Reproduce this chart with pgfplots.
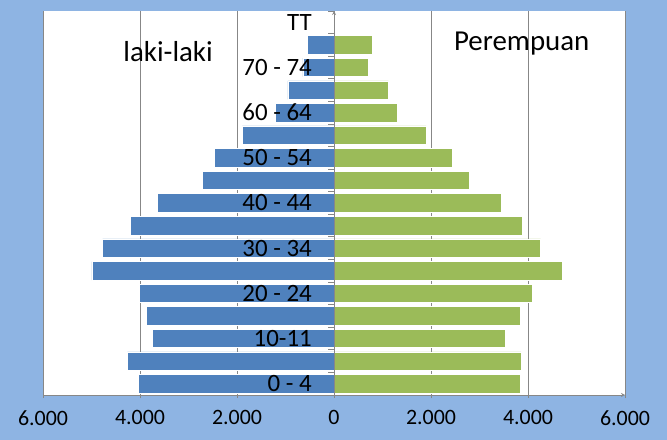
\documentclass[border=0pt]{standalone}
\usepackage{fontspec}
\setmainfont{Carlito}
\usepackage{pgfplots}
\usepackage{pgfplotstable}
\pgfplotsset{compat=1.18}

\definecolor{bgblue}{HTML}{8EB4E3}
\definecolor{male}{HTML}{4F81BD}
\definecolor{female}{HTML}{9BBB59}
\definecolor{gridgray}{HTML}{878787}

\pgfplotsset{
    pyr frame/.style={
        at={(43bp,45bp)}, anchor=south west,
        scale only axis, width=582bp, height=384bp,
        xmin=-6000, xmax=6000, ymin=-0.5, ymax=16.5,
        axis line style={-, draw=gridgray, line width=0.8pt},
        major tick length=6bp,
        tick style={draw=gridgray, line width=0.8pt},
    },
}

% pos: 0 = 0-4 ... 15 = 75+, 16 = TT (no data)
\pgfplotstableread{
pos lk pr
0 -4030 3840
1 -4260 3860
2 -3740 3540
3 -3870 3840
4 -4010 4080
5 -4990 4700
6 -4770 4260
7 -4200 3880
8 -3640 3450
9 -2710 2790
10 -2460 2440
11 -1890 1900
12 -1210 1310
13 -950 1120
14 -640 700
15 -550 790
}\pyramid

\begin{document}
\begin{tikzpicture}
\fill[bgblue] (0,0) rectangle (667bp,440bp);
% bars, grid and x axis
\begin{axis}[
    pyr frame,
    tick align=outside,
    xbar, bar shift=0pt, bar width=18.5bp,
    axis x line=bottom, axis y line=none,
    axis background/.style={fill=white},
    xtick={-6000,-4000,...,6000},
    xticklabels={6.000,4.000,2.000,0,2.000,4.000,6.000},
    xmajorgrids, major grid style={draw=gridgray, line width=0.8pt},
    xticklabel style={font=\fontsize{22}{22}\selectfont, anchor=north, inner sep=0pt, yshift=-12bp},
    ytick=\empty,
    clip=false,
]
\addplot[draw=white, line width=0.6pt, fill=male] table[x=lk, y=pos] {\pyramid};
\addplot[draw=white, line width=0.6pt, fill=female] table[x=pr, y=pos] {\pyramid};
\node[font=\fontsize{29}{29}\selectfont] at (axis cs:-3420,14.69) {laki-laki};
\node[font=\fontsize{29}{29}\selectfont] at (axis cs:3870,15.08) {Perempuan};
\end{axis}
% central y axis with its category labels, above the bars
\begin{axis}[
    pyr frame,
    axis x line=none, axis y line=middle,
    xtick=\empty,
    ytick={-0.5,0.5,...,16.5}, yticklabels={},
    ytick style={xshift=-3bp},
    extra y ticks={0,2,...,16},
    extra y tick labels={0 - 4,10-11,20 - 24,30 - 34,40 - 44,50 - 54,60 - 64,70 - 74,TT},
    extra y tick style={major tick length=0pt,
        yticklabel style={font=\fontsize{25}{25}\selectfont, anchor=east, inner sep=0pt, xshift=-22bp}},
]
\end{axis}
\useasboundingbox (0,0) rectangle (667bp,440bp);
\end{tikzpicture}
\end{document}
